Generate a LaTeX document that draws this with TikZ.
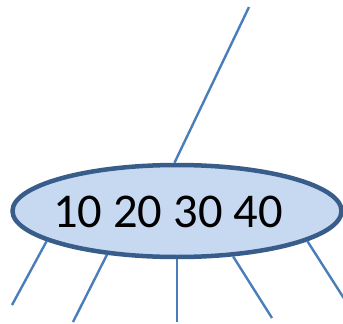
\documentclass[tikz,border=0pt]{standalone}
\usepackage{fontspec}
\setmainfont{Carlito}
\usetikzlibrary{shapes.geometric}
\definecolor{efill}{HTML}{C6D9F1}
\definecolor{eborder}{HTML}{385D8A}
\definecolor{conn}{HTML}{4A7EBB}
\tikzset{
  keynode/.style={ellipse, draw=eborder, fill=efill, line width=4.5pt,
    minimum width=329pt, minimum height=92pt, inner sep=0pt},
  keytext/.style={font=\fontsize{48.5}{52}\selectfont, inner sep=0pt, text=black},
  edge/.style={draw=conn, line width=2.4pt}
}
\begin{document}
\begin{tikzpicture}[x=1pt,y=-1pt]
\useasboundingbox (0,0) rectangle (343,324);
\node[keynode] (e) at (177,211) {};
\node[keytext] (t) at (168,211.5) {10 20 30 40};
\coordinate (p0) at (249,7);
\coordinate (c1) at (12,305);
\coordinate (c2) at (73,322);
\coordinate (c3) at (177,322);
\coordinate (c4) at (272,318);
\coordinate (c5) at (345,300);
\draw[edge] (e.93.5) -- (p0);
\draw[edge] (e.193.5) -- (c1);
\draw[edge] (e.212.8) -- (c2);
\draw[edge] (e.270) -- (c3);
\draw[edge] (e.321.7) -- (c4);
\draw[edge] (e.347.5) -- (c5);
\end{tikzpicture}
\end{document}
